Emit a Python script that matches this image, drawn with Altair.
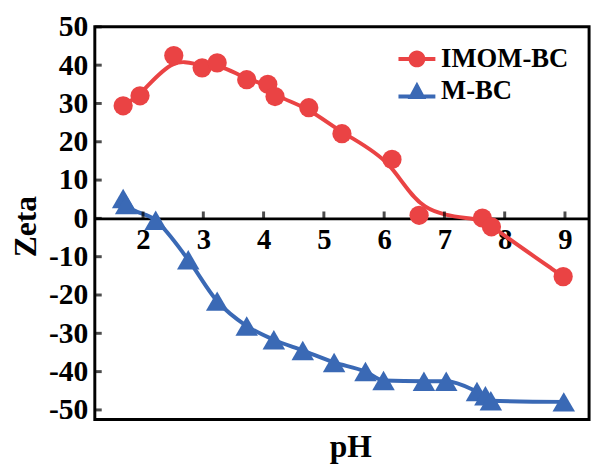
import altair as alt
import pandas as pd

# ---- data ----
series = ["IMOM-BC", "M-BC"]
colors = ["#EA4344", "#3A69B5"]

ph_imom = [1.67, 1.95, 2.51, 2.98, 3.23, 3.72, 4.07, 4.19, 4.75, 5.30, 6.13, 6.58, 7.63, 7.78, 8.97]
zeta_imom = [29.4, 32.0, 42.5, 39.3, 40.6, 36.2, 35.0, 31.8, 28.9, 22.1, 15.4, 0.8, 0.1, -2.2, -15.2]

ph_mbc = [1.67, 1.72, 2.21, 2.75, 3.23, 3.72, 4.17, 4.65, 5.17, 5.69, 5.99, 6.66, 7.03, 7.54, 7.68, 7.77, 8.98]
zeta_mbc = [5.2, 3.6, -0.5, -10.8, -21.6, -28.1, -31.7, -34.5, -37.6, -40.0, -42.3, -42.5, -42.5, -45.2, -46.3, -47.6, -47.9]

x_ticks = [2, 3, 4, 5, 6, 7, 8, 9]
y_ticks = [-50, -40, -30, -20, -10, 0, 10, 20, 30, 40, 50]
x_domain = [1.2, 9.4]
y_domain = [-52.5, 50]

# ---- layout / style ----
W, H = 501, 398
FONT = "Liberation Serif"
X_AXIS_OFFSET = -H * (0 - y_domain[0]) / (y_domain[1] - y_domain[0])

df_imom = pd.DataFrame({"pH": ph_imom, "Zeta": zeta_imom, "series": series[0]})
df_mbc = pd.DataFrame({"pH": ph_mbc, "Zeta": zeta_mbc, "series": series[1]})
df_xt = pd.DataFrame({"t": x_ticks})
df_yt = pd.DataFrame({"t": y_ticks})
df_leg = pd.DataFrame({"series": series})

xs = alt.Scale(domain=x_domain, nice=False, zero=False)
ys = alt.Scale(domain=y_domain, nice=False, zero=False)

x_axis = alt.Axis(
    values=x_ticks, ticks=False, tickSize=0, grid=False,
    domain=True, domainColor="black", domainWidth=3,
    offset=X_AXIS_OFFSET, labelPadding=8, labelOverlap=False,
    labelExpr="'' + datum.value",
    labelFont=FONT, labelFontSize=29, labelFontWeight="bold", labelColor="black",
    title="pH", titleFont=FONT, titleFontSize=32, titleFontWeight="bold", titleColor="black",
    titleX=259, titleY=241, titleBaseline="alphabetic", titleAlign="center",
)
y_axis = alt.Axis(
    values=y_ticks, ticks=False, tickSize=0, grid=False, domain=False,
    labelPadding=7, labelOverlap=False,
    labelExpr="'' + datum.value",
    labelFont=FONT, labelFontSize=30, labelFontWeight="bold", labelColor="black",
    title="Zeta", titleFont=FONT, titleFontSize=32, titleFontWeight="bold", titleColor="black",
    titleX=-60, titleY=H / 2 + 3, titleBaseline="alphabetic", titleAlign="center", titleAngle=270,
)

X = alt.X("pH:Q", scale=xs, axis=x_axis)
Y = alt.Y("Zeta:Q", scale=ys, axis=y_axis)

red_line = alt.Chart(df_imom).mark_line(interpolate="basis", strokeWidth=4, color=colors[0]).encode(x=X, y=Y)
blue_line = alt.Chart(df_mbc).mark_line(interpolate="monotone", strokeWidth=4, color=colors[1]).encode(x=X, y=Y)
red_pts = alt.Chart(df_imom).mark_point(shape="circle", filled=True, size=380, opacity=1, color=colors[0]).encode(x=X, y=Y)
blue_pts = alt.Chart(df_mbc).mark_point(shape="triangle-up", filled=True, size=520, opacity=1, color=colors[1]).encode(x=X, y=Y)

x_tick_marks = alt.Chart(df_xt).mark_tick(orient="vertical", size=7, thickness=3, color="black", yOffset=-3.5).encode(
    x=alt.X("t:Q", scale=xs, axis=x_axis, title="pH"), y=alt.datum(0, scale=ys, axis=y_axis, title="Zeta")
)
y_tick_marks = alt.Chart(df_yt).mark_tick(orient="horizontal", size=7, thickness=3, color="black", xOffset=3.5).encode(
    y=alt.Y("t:Q", scale=ys, axis=y_axis, title="Zeta"), x=alt.datum(x_domain[0], scale=xs, axis=x_axis, title="pH")
)

circle_path = "M-1,0A1,1,0,1,1,1,0A1,1,0,1,1,-1,0Z M-2.2,-0.24H2.2V0.24H-2.2Z"
tri_path = "M0,-1.15L1.1,0.9L-1.1,0.9Z M-2.2,0.36H2.2V0.84H-2.2Z"

leg = alt.Legend(
    orient="none", legendX=313, legendY=19, title=None, padding=0,
    labelFont=FONT, labelFontSize=27, labelFontWeight="bold", labelColor="black",
    labelOffset=11, rowPadding=5, symbolStrokeWidth=0, symbolOpacity=1, symbolSize=289,
)
legend_layer = alt.Chart(df_leg).mark_point(filled=True, size=289, opacity=1).encode(
    shape=alt.Shape("series:N", scale=alt.Scale(domain=series, range=[circle_path, tri_path]), legend=leg),
    color=alt.Color("series:N", scale=alt.Scale(domain=series, range=colors), legend=leg),
).transform_filter("false")

chart = alt.layer(
    red_line, blue_line, red_pts, blue_pts, x_tick_marks, y_tick_marks, legend_layer
).properties(
    width=W, height=H,
    autosize=alt.AutoSizeParams(type="none"),
    padding={"left": 88, "top": 16, "right": 6, "bottom": 42},
).configure_view(stroke="black", strokeWidth=3)

chart.save("out.html", embed_options={"renderer": "svg", "actions": False})
